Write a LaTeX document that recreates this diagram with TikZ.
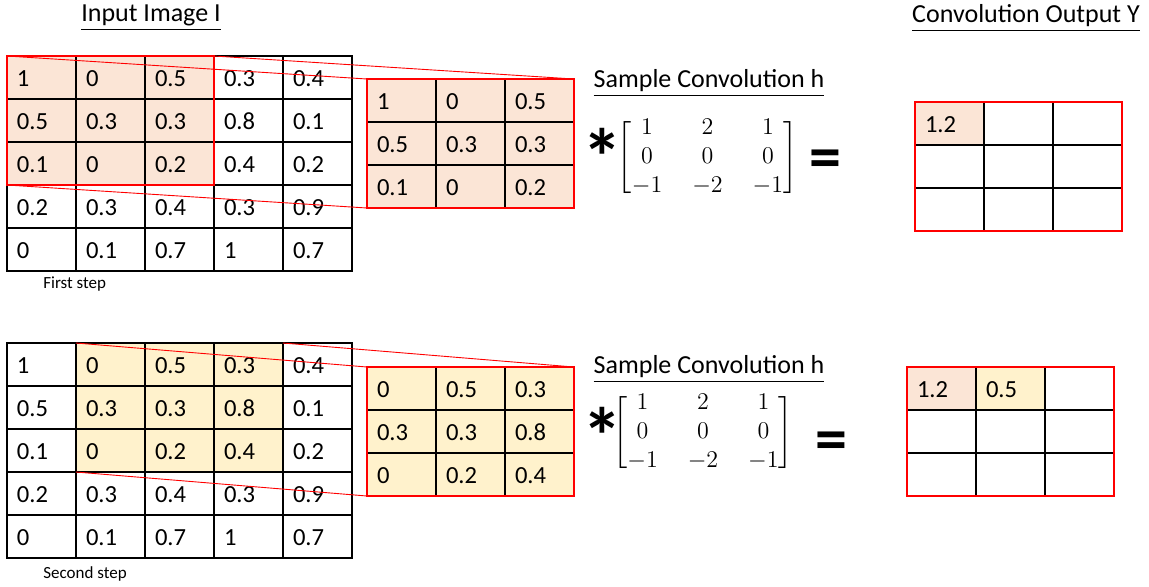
\documentclass[tikz,border=0pt]{standalone}
\usepackage{fontspec}
\setmainfont{Carlito}
\usepackage{amsmath}
\usetikzlibrary{backgrounds}

\definecolor{peach}{HTML}{FBE5D6}
\definecolor{cream}{HTML}{FFF2CC}
\definecolor{boxred}{HTML}{FF0000}

\newcommand{\sobelmat}{{\fontsize{12}{14.5}\selectfont\delimiterfactor=800 \delimitershortfall=10pt
  $\left[\begin{array}{@{}c@{\hspace{15pt}}c@{\hspace{15pt}}c@{}}1&2&1\\0&0&0\\-1&-2&-1\end{array}\right]$}}

\tikzset{
  cell/.style={draw=black, line width=0.6pt, minimum width=34.5pt, minimum height=21.5pt,
    text width=24.5pt, inner xsep=5pt, inner ysep=0pt, outer sep=0pt, align=left,
    text height=9.5pt, text depth=0.5pt, font=\fontsize{12.3}{14}\selectfont},
  frame/.style={draw=boxred, line width=0.75pt},
  zoomline/.style={draw=boxred, line width=0.45pt},
  title/.style={font=\fontsize{13}{15}\selectfont, inner sep=1pt},
  note/.style={font=\fontsize{8.5}{10}\selectfont, anchor=west, inner sep=0pt},
  bigsym/.style={font=\fontsize{#1}{#1}\selectfont\bfseries, inner sep=0pt},
}

\begin{document}
\begin{tikzpicture}[x=0.5pt, y=-0.5pt]
\useasboundingbox (0,0) rectangle (1149,586);

% titles
\node[title] (t-in) at (151,18) {\underline{Input Image I}};
\node[title] (t-out) at (1026,18) {\underline{Convolution Output Y}};
\node[title] (t-h1) at (709,83) {\underline{Sample Convolution h}};
\node[title] (t-h2) at (709,369) {\underline{Sample Convolution h}};

% first step: input image
\foreach \row [count=\r] in {{1,0,0.5,0.3,0.4},{0.5,0.3,0.3,0.8,0.1},{0.1,0,0.2,0.4,0.2},{0.2,0.3,0.4,0.3,0.9},{0,0.1,0.7,1,0.7}}
  \foreach \v [count=\c] in \row
    \node[cell] (a-\r-\c) at ({7+69*(\c-0.5)},{56+43*(\r-0.5)}) {\v};
\begin{scope}[on background layer]
  \fill[peach] (a-1-1.north west) rectangle (a-3-3.south east);
\end{scope}
\draw[frame] (a-1-1.north west) rectangle (a-3-3.south east);
\node[note] (n1) at (43,284) {First step};

% first step: window
\foreach \row [count=\r] in {{1,0,0.5},{0.5,0.3,0.3},{0.1,0,0.2}}
  \foreach \v [count=\c] in \row
    \node[cell, fill=peach] (k-\r-\c) at ({367+69*(\c-0.5)},{79+43*(\r-0.5)}) {\v};
\draw[frame] (k-1-1.north west) rectangle (k-3-3.south east);

\draw[zoomline] (a-1-1.north west) -- (k-1-1.north west);
\draw[zoomline] (a-1-3.north east) -- (k-1-3.north east);
\draw[zoomline] (a-3-1.south west) -- (k-3-1.south west);

\node[bigsym=40] (s1) at (602,157) {*};
\node[inner sep=0pt] (h1) at (707.5,157.5) {\sobelmat};
\node[bigsym=32] (q1) at (825,164) {=};

% first step: output
\foreach \row [count=\r] in {{1.2,{},{}},{{},{},{}},{{},{},{}}}
  \foreach \v [count=\c] in \row
    \node[cell] (y-\r-\c) at ({915+69*(\c-0.5)},{102+43*(\r-0.5)}) {\v};
\begin{scope}[on background layer]
  \fill[peach] (y-1-1.north west) rectangle (y-1-1.south east);
\end{scope}
\draw[frame] (y-1-1.north west) rectangle (y-3-3.south east);

% second step: input image
\foreach \row [count=\r] in {{1,0,0.5,0.3,0.4},{0.5,0.3,0.3,0.8,0.1},{0.1,0,0.2,0.4,0.2},{0.2,0.3,0.4,0.3,0.9},{0,0.1,0.7,1,0.7}}
  \foreach \v [count=\c] in \row
    \node[cell] (b-\r-\c) at ({7+69*(\c-0.5)},{343+43*(\r-0.5)}) {\v};
\begin{scope}[on background layer]
  \fill[cream] (b-1-2.north west) rectangle (b-3-4.south east);
\end{scope}
\node[note] (n2) at (43,574) {Second step};

% second step: window
\foreach \row [count=\r] in {{0,0.5,0.3},{0.3,0.3,0.8},{0,0.2,0.4}}
  \foreach \v [count=\c] in \row
    \node[cell, fill=cream] (m-\r-\c) at ({367+69*(\c-0.5)},{367+43*(\r-0.5)}) {\v};
\draw[frame] (m-1-1.north west) rectangle (m-3-3.south east);

\draw[zoomline] (b-1-2.north west) -- (m-1-1.north west);
\draw[zoomline] (b-1-4.north east) -- (m-1-3.north east);
\draw[zoomline] (b-3-2.south west) -- (m-3-1.south west);

\node[bigsym=40] (s2) at (602,436) {*};
\node[inner sep=0pt] (h2) at (703,432.5) {\sobelmat};
\node[bigsym=32] (q2) at (831,446) {=};

% second step: output
\foreach \row [count=\r] in {{1.2,0.5,{}},{{},{},{}},{{},{},{}}}
  \foreach \v [count=\c] in \row
    \node[cell] (z-\r-\c) at ({907+69*(\c-0.5)},{367+43*(\r-0.5)}) {\v};
\begin{scope}[on background layer]
  \fill[peach] (z-1-1.north west) rectangle (z-1-1.south east);
  \fill[cream] (z-1-2.north west) rectangle (z-1-2.south east);
\end{scope}
\draw[frame] (z-1-1.north west) rectangle (z-3-3.south east);

\end{tikzpicture}
\end{document}
